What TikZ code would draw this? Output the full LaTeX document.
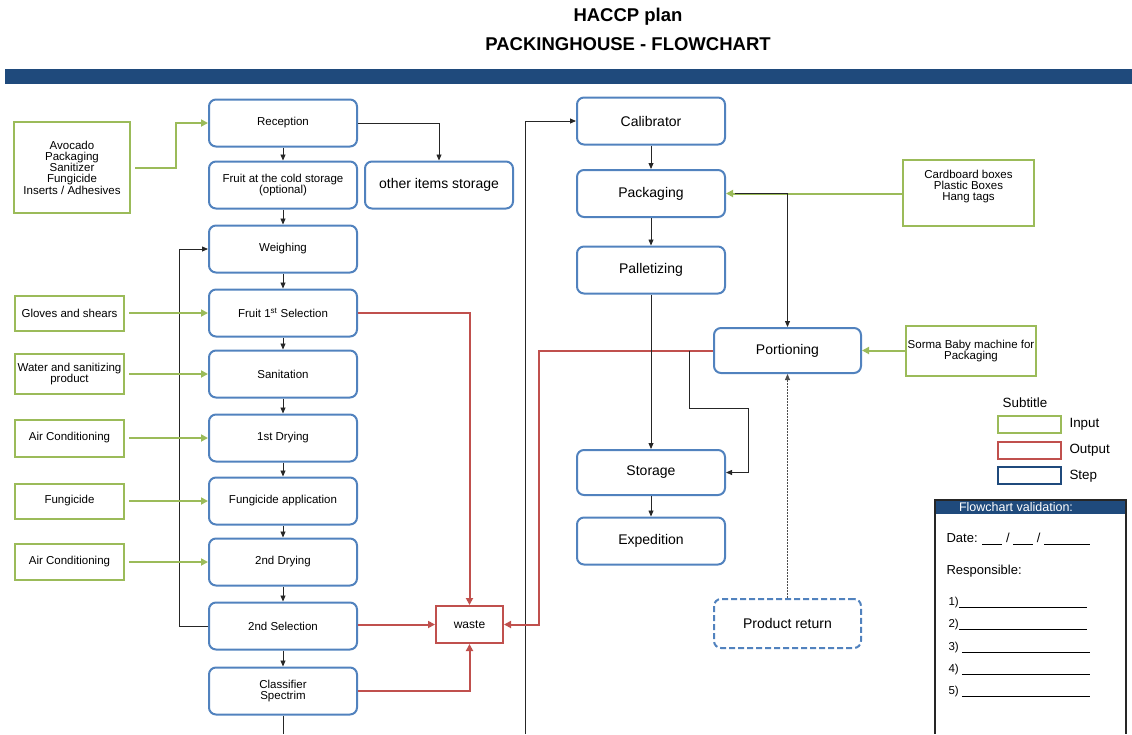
\documentclass[tikz,border=0pt]{standalone}
\usepackage{fontspec}
\setmainfont{Liberation Sans}
\usetikzlibrary{positioning, calc, arrows.meta}
\definecolor{stepblue}{HTML}{5182BE}
\definecolor{inputgreen}{HTML}{9BBB59}
\definecolor{outputred}{HTML}{C0504D}
\definecolor{barblue}{HTML}{1F4A7C}

\begin{document}
\begin{tikzpicture}[x=1pt, y=-1pt,
    stepbox/.style={draw=stepblue, line width=2pt, rounded corners=7pt, minimum width=148pt, minimum height=47pt,
        align=center, inner sep=1pt, font=\fontsize{11.5}{11.5}\selectfont},
    bigstep/.style={stepbox, font=\fontsize{14}{16}\selectfont},
    inbox/.style={draw=inputgreen, line width=2pt, minimum width=109pt, minimum height=35pt,
        align=center, inner sep=1pt, font=\fontsize{11.5}{11.3}\selectfont},
    outbox/.style={draw=outputred, line width=2pt, minimum width=67pt, minimum height=37pt, font=\fontsize{12}{13}\selectfont},
    legbox/.style={line width=2pt, minimum width=63pt, minimum height=17pt},
    flow/.style={-{Triangle[length=6pt,width=5pt]}, line width=0.8pt, draw=black!85},
    inflow/.style={-{Triangle[length=7pt,width=7pt]}, line width=2pt, draw=inputgreen, shorten <=4pt},
    outflow/.style={-{Triangle[length=7pt,width=7pt]}, line width=2pt, draw=outputred},
    txt/.style={font=\fontsize{13.4}{15}\selectfont}]
\useasboundingbox (0,0) rectangle (1132,734);

\node[font=\bfseries\fontsize{18.5}{22}\selectfont] (heading) at (628,17) {HACCP plan};
\node[font=\bfseries\fontsize{18.5}{22}\selectfont] (subheading) at (628,44) {PACKINGHOUSE - FLOWCHART};
\fill[barblue] (5,69) rectangle (1132,84);

\node[stepbox] (reception) at (283,123) {Reception};
\node[stepbox, below=13pt of reception] (coldstore) {Fruit at the cold storage\\(optional)};
\node[bigstep, right=6pt of coldstore] (otherstore) {other items storage};
\node[stepbox, below=15pt of coldstore] (weighing) {Weighing};
\node[stepbox, below=15pt of weighing] (firstsel) {Fruit 1\textsuperscript{st} Selection};
\node[stepbox, below=12pt of firstsel] (sanitation) {Sanitation};
\node[stepbox, below=15pt of sanitation] (firstdry) {1st Drying};
\node[stepbox, below=14pt of firstdry] (fungapp) {Fungicide application};
\node[stepbox, below=12pt of fungapp] (seconddry) {2nd Drying};
\node[stepbox, below=15pt of seconddry] (secondsel) {2nd Selection};
\node[stepbox, below=16pt of secondsel] (classifier) {Classifier\\Spectrim};

\node[inbox, minimum width=116pt, minimum height=91pt] (inavocado) at (72,167.5)
    {Avocado\\Packaging\\Sanitizer\\Fungicide\\Inserts / Adhesives};
\node[inbox, left=83pt of firstsel] (ingloves) {Gloves and shears};
\node[inbox, left=83pt of sanitation, minimum height=40pt] (inwater) {Water and sanitizing\\product};
\node[inbox, left=83pt of firstdry, minimum height=37pt] (inair) {Air Conditioning};
\node[inbox, left=83pt of fungapp] (infung) {Fungicide};
\node[inbox, left=83pt of seconddry, minimum height=36pt] (inairtwo) {Air Conditioning};

\node[outbox] (waste) at (469.5,624.5) {waste};

\node[bigstep] (calibrator) at (651,121) {Calibrator};
\node[bigstep] (packaging) at (651,193.5) {Packaging};
\node[bigstep] (palletizing) at (651,270) {Palletizing};
\node[bigstep, minimum width=147pt, minimum height=45pt] (portioning) at (787.5,350.5) {Portioning};
\node[bigstep, minimum height=45pt] (storage) at (651,472.5) {Storage};
\node[bigstep] (expedition) at (651,541) {Expedition};
\node[bigstep, minimum width=147pt, minimum height=49pt, dashed, dash pattern=on 6pt off 3pt] (productret) at (787.5,623.5) {Product return};

\node[inbox, minimum width=131pt, minimum height=66pt] (incartons) at (968.5,193) {Cardboard boxes\\Plastic Boxes\\Hang tags\\[4pt]};
\node[inbox, minimum width=130pt, minimum height=50pt] (insorma) at (971,351) {Sorma Baby machine for\\Packaging};

\coordinate (leftend) at (283,734);
\coordinate (returnend) at (525,734);
\coordinate (storagebend) at (748,408);

\draw[flow] (reception) -- (coldstore);
\draw[flow] (reception.east) -| (otherstore.north);
\draw[flow] (coldstore) -- (weighing);
\draw[flow] (weighing) -- (firstsel);
\draw[flow] (firstsel) -- (sanitation);
\draw[flow] (sanitation) -- (firstdry);
\draw[flow] (firstdry) -- (fungapp);
\draw[flow] (fungapp) -- (seconddry);
\draw[flow] (seconddry) -- (secondsel);
\draw[flow] (secondsel) -- (classifier);
\draw[line width=0.8pt, black!85] (classifier) -- (leftend);
\draw[flow] (secondsel.west) -- ++(-29,0) |- (weighing.west);
\draw[flow] (returnend) |- (calibrator.west);

\draw[inflow] (inavocado.east) -- ++(45,0) |- (reception.west);
\draw[inflow] (ingloves) -- (firstsel);
\draw[inflow] (inwater) -- (sanitation);
\draw[inflow] (inair) -- (firstdry);
\draw[inflow] (infung) -- (fungapp);
\draw[inflow] (inairtwo) -- (seconddry);
\draw[inflow, shorten <=0pt] (incartons.west |- packaging.east) -- (packaging.east);
\draw[inflow, shorten <=0pt] (insorma.west |- portioning.east) -- (portioning.east);

\draw[outflow] (firstsel.east) -| (waste.north);
\draw[outflow] (secondsel.east |- waste.west) -- (waste.west);
\draw[outflow] (classifier.east) -| (waste.south);
\draw[outflow] (portioning.west) -- ++(-174,0) |- (waste.east);

\draw[flow] (calibrator) -- (packaging);
\draw[flow] (packaging) -- (palletizing);
\draw[flow] (palletizing) -- (storage);
\draw[flow] (storage) -- (expedition);
\draw[flow] ([xshift=9pt]packaging.east) -| (portioning.north);
\draw[flow] ($(portioning.west)+(-24,0)$) |- (storagebend) |- (storage.east);
\draw[flow, draw=black!70, dash pattern=on 2pt off 1pt] (productret) -- (portioning);

\node[txt] (legtitle) at (1025,403) {Subtitle};
\node[legbox, draw=inputgreen] (legin) at (1029.5,424.5) {};
\node[legbox, draw=outputred] (legout) at (1029.5,450.5) {};
\node[legbox, draw=barblue] (legstep) at (1029.5,475.5) {};
\node[txt, anchor=west] (leginlabel) at (1066,424) {Input};
\node[txt, anchor=west] (legoutlabel) at (1066,450) {Output};
\node[txt, anchor=west] (legsteplabel) at (1066,476) {Step};

\fill[barblue] (935,500) rectangle (1126,514);
\draw[line width=1.2pt, black!85] (935,734) -- (935,500) -- (1126,500) -- (1126,734);
\node[text=white, font=\fontsize{12.5}{13}\selectfont] (valhead) at (1016,507) {Flowchart validation:};
\node[txt, font=\fontsize{13}{15}\selectfont, anchor=west] (valdate) at (943,539) {Date: \rule[-1.5pt]{20pt}{0.6pt} / \rule[-1.5pt]{20pt}{0.6pt} / \rule[-1.5pt]{46pt}{0.6pt}};
\node[txt, font=\fontsize{13}{15}\selectfont, anchor=west] (valresp) at (943,571) {Responsible:};
\foreach \i/\y/\gap in {1/603/0pt, 2/625/0pt, 3/648/3pt, 4/670/3pt, 5/692/3pt}
    \node[anchor=west, font=\fontsize{11.5}{12}\selectfont] (resp\i) at (945,\y) {\i)\hspace{\gap}\rule[-1.5pt]{128pt}{0.6pt}};
\end{tikzpicture}
\end{document}
